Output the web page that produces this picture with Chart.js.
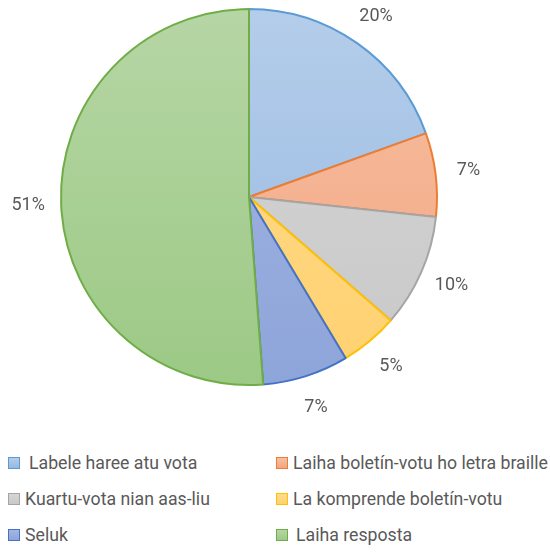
<!DOCTYPE html>
<html>
<head>
<meta charset="utf-8">
<script src="https://cdn.jsdelivr.net/npm/chart.js@4"></script>
<style>
  body { margin: 0; background: #fff; font-family: Roboto, sans-serif; }
  #wrap { position: relative; width: 550px; height: 552px; }
  #pie { position: absolute; left: 0; top: 0; }
  #legend { position: absolute; left: 0; top: 450px; width: 550px; }
  .item { position: absolute; font-size: 17.7px; color: #595959; white-space: nowrap; line-height: 22px; }
  .box { display: inline-block; width: 10px; height: 10px; margin-right: 5px; vertical-align: 0px; }
</style>
</head>
<body>
<div id="wrap">
  <canvas id="pie" width="550" height="440"></canvas>
  <div id="legend"></div>
</div>
<script>
// -------- data --------------------
const labels = [
  'Labele haree atu vota',
  'Laiha boletín-votu ho letra braille',
  'Kuartu-vota nian aas-liu',
  'La komprende boletín-votu',
  'Seluk',
  'Laiha resposta'
];
const values = [19.5, 7.2, 9.7, 5.0, 7.4, 51.2];

// colours (line, light top, darker bottom)
const lineColors = ['#5b9bd5', '#ed7d31', '#a5a5a5', '#ffc000', '#4472c4', '#70ad47'];
const topColors = ['#b4cdea', '#f7c0a4', '#d6d6d6', '#ffdb8f', '#a4b6e2', '#b6d6a5'];
const bottomColors = ['#97b9e2', '#f2a57f', '#c8c8c8', '#ffd170', '#8ea5da', '#9cc985'];

function sliceFill(ctx) {
  const chart = ctx.chart;
  const area = chart.chartArea;
  if (!area) return topColors[ctx.dataIndex];
  const g = chart.ctx.createLinearGradient(0, area.top, 0, area.bottom);
  g.addColorStop(0, topColors[ctx.dataIndex]);
  g.addColorStop(1, bottomColors[ctx.dataIndex]);
  return g;
}

// percent labels outside the pie
const outsideLabels = {
  id: 'outsideLabels',
  afterDatasetsDraw(chart) {
    const c = chart.ctx;
    const meta = chart.getDatasetMeta(0);
    const total = values.reduce((a, b) => a + b, 0);
    c.save();
    c.font = '18px Roboto';
    c.fillStyle = '#595959';
    c.textAlign = 'center';
    c.textBaseline = 'middle';
    meta.data.forEach((arc, i) => {
      const mid = (arc.startAngle + arc.endAngle) / 2;
      const r = arc.outerRadius + 33;
      const x = arc.x + Math.cos(mid) * r;
      const y = arc.y + Math.sin(mid) * r;
      c.fillText(Math.round(values[i] / total * 100) + '%', x, y);
    });
    c.restore();
  }
};

const config = {
  type: 'pie',
  data: {
    labels: labels,
    datasets: [{
      data: values,
      backgroundColor: sliceFill,
      borderColor: lineColors,
      borderWidth: 2,
      hoverOffset: 0
    }]
  },
  options: {
    responsive: false,
    animation: false,
    layout: { padding: { top: 8, bottom: 54, left: 60, right: 112 } },
    plugins: {
      legend: { display: false },
      tooltip: { enabled: false }
    }
  },
  plugins: [outsideLabels]
};

const chart = new Chart(document.getElementById('pie'), config);

// ---------------- legend (two columns) ----------------
const legend = document.getElementById('legend');
const colX = [8, 276];
const rowY = [2, 38, 74];
const textGap = [9, 5, 5, 5, 5, 8];
labels.forEach((name, i) => {
  const el = document.createElement('div');
  el.className = 'item';
  el.style.left = colX[i % 2] + 'px';
  el.style.top = rowY[Math.floor(i / 2)] + 'px';
  const box = document.createElement('span');
  box.className = 'box';
  box.style.background = 'linear-gradient(' + topColors[i] + ',' + bottomColors[i] + ')';
  box.style.border = '1px solid ' + lineColors[i];
  box.style.marginRight = textGap[i] + 'px';
  el.appendChild(box);
  el.appendChild(document.createTextNode(name));
  legend.appendChild(el);
});
</script>
</body>
</html>
